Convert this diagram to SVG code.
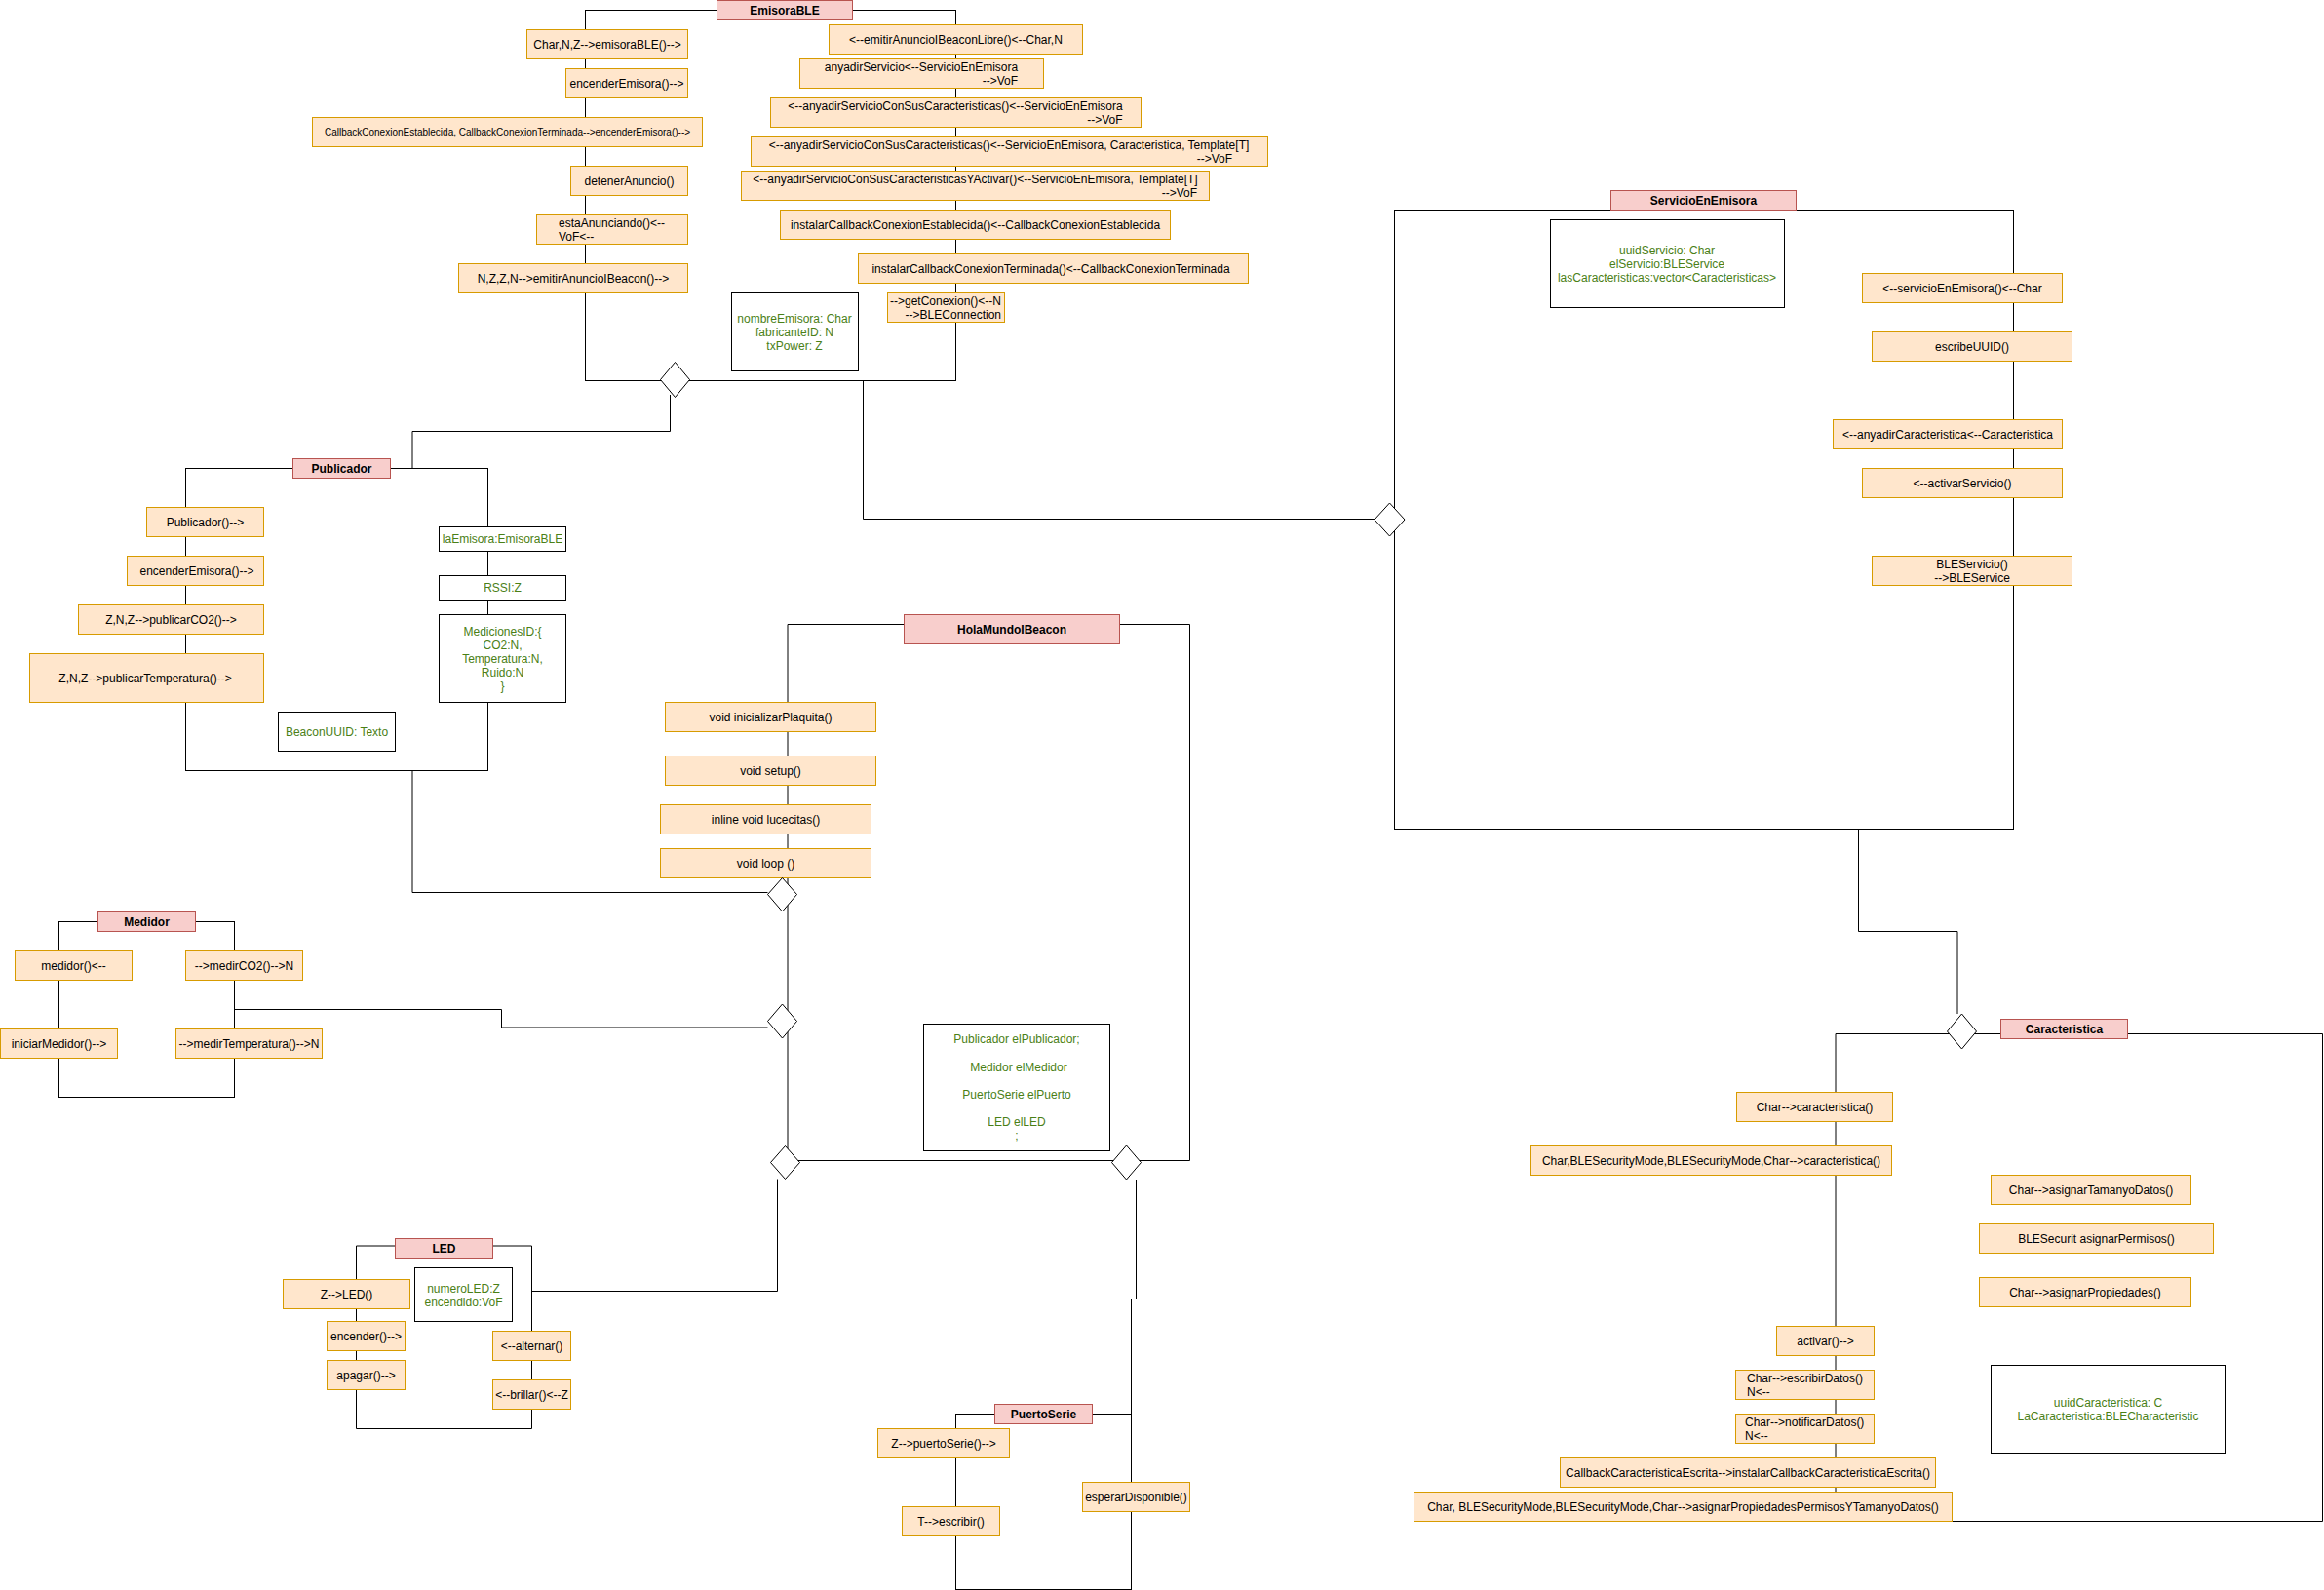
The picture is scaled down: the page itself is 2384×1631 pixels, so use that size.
<svg xmlns="http://www.w3.org/2000/svg" width="2384" height="1631" viewBox="0 0 2384 1631">
<style>
.m{fill:#ffe6cc;stroke:#d79b00;stroke-width:1}
.h{fill:#f8cecc;stroke:#b85450;stroke-width:1}
.a{fill:#fff;stroke:#000;stroke-width:1}
.k{fill:none;stroke:#000;stroke-width:1}
.d{fill:#fff;stroke:#000;stroke-width:1}
text{font-family:"Liberation Sans",Arial,sans-serif;font-size:12px;fill:#000;text-anchor:middle}
.g{fill:#4a8016}
.b{font-weight:bold}
.s{text-anchor:start}
.e{text-anchor:end}
</style>
<rect width="2384" height="1631" fill="#fff"/>
<g id="connectors">
<polyline class="k" points="687.5,405 687.5,442.5 423,442.5 423,480.5"/>
<polyline class="k" points="885.5,390.5 885.5,532.5 1410,532.5"/>
<polyline class="k" points="423,790.5 423,915.5 787.5,915.5"/>
<polyline class="k" points="240.5,1035.5 514.5,1035.5 514.5,1054 787.5,1054"/>
<polyline class="k" points="545.5,1324.5 797.5,1324.5 797.5,1209.5"/>
<polyline class="k" points="1165.5,1210 1165.5,1332.5 1160.5,1332.5 1160.5,1450.5"/>
<polyline class="k" points="1906.5,850.5 1906.5,955.5 2008,955.5 2008,1040"/>
</g>
<g id="EmisoraBLE">
<rect class="k" x="600.5" y="10.5" width="380" height="380"/>
<rect class="h" x="735.5" y="0.5" width="139" height="20"/>
<text class="b" x="805" y="14.5">EmisoraBLE</text>
<rect class="m" x="540.5" y="30.5" width="165" height="30"/>
<text x="623" y="49.5">Char,N,Z--&gt;emisoraBLE()--&gt;</text>
<rect class="m" x="580.5" y="70.5" width="125" height="30"/>
<text x="643" y="89.5">encenderEmisora()--&gt;</text>
<rect class="m" x="320.5" y="120.5" width="400" height="30"/>
<text x="520.5" y="139" style="font-size:10px">CallbackConexionEstablecida, CallbackConexionTerminada--&gt;encenderEmisora()--&gt;</text>
<rect class="m" x="585.5" y="170.5" width="120" height="30"/>
<text x="645.5" y="189.5">detenerAnuncio()</text>
<rect class="m" x="550.5" y="220.5" width="155" height="30"/>
<text class="s" x="573" y="233">estaAnunciando()&lt;--</text>
<text class="s" x="573" y="246.7">VoF&lt;--</text>
<rect class="m" x="470.5" y="270.5" width="235" height="30"/>
<text x="588" y="289.5">N,Z,Z,N--&gt;emitirAnuncioIBeacon()--&gt;</text>
<rect class="m" x="850.5" y="25.5" width="260" height="30"/>
<text x="980.5" y="44.5">&lt;--emitirAnuncioIBeaconLibre()&lt;--Char,N</text>
<rect class="m" x="820.5" y="60.5" width="250" height="30"/>
<text x="945" y="73">anyadirServicio&lt;--ServicioEnEmisora</text>
<text class="e" x="1044" y="86.7">--&gt;VoF</text>
<rect class="m" x="790.5" y="100.5" width="380" height="30"/>
<text x="980" y="112.7">&lt;--anyadirServicioConSusCaracteristicas()&lt;--ServicioEnEmisora</text>
<text class="e" x="1151.5" y="127">--&gt;VoF</text>
<rect class="m" x="770.5" y="140.5" width="530" height="30"/>
<text x="1035" y="153">&lt;--anyadirServicioConSusCaracteristicas()&lt;--ServicioEnEmisora, Caracteristica, Template[T]</text>
<text class="e" x="1264" y="166.7">--&gt;VoF</text>
<rect class="m" x="760.5" y="175.5" width="480" height="30"/>
<text x="1000.5" y="187.7">&lt;--anyadirServicioConSusCaracteristicasYActivar()&lt;--ServicioEnEmisora, Template[T]</text>
<text class="e" x="1228" y="201.7">--&gt;VoF</text>
<rect class="m" x="800.5" y="215.5" width="400" height="30"/>
<text x="1000.5" y="234.5">instalarCallbackConexionEstablecida()&lt;--CallbackConexionEstablecida</text>
<rect class="m" x="880.5" y="260.5" width="400" height="30"/>
<text x="1078" y="279.5">instalarCallbackConexionTerminada()&lt;--CallbackConexionTerminada</text>
<rect class="m" x="910.5" y="300.5" width="120" height="30"/>
<text x="970" y="313">--&gt;getConexion()&lt;--N</text>
<text class="e" x="1027" y="326.7">--&gt;BLEConnection</text>
<rect class="a" x="750.5" y="300.5" width="130" height="80"/>
<text class="g" x="815" y="331">nombreEmisora: Char</text>
<text class="g" x="815" y="345">fabricanteID: N</text>
<text class="g" x="815" y="359">txPower: Z</text>
</g>
<g id="Publicador">
<rect class="k" x="190.5" y="480.5" width="310" height="310"/>
<rect class="h" x="300.5" y="470.5" width="100" height="20"/>
<text class="b" x="350.5" y="484.5">Publicador</text>
<rect class="m" x="150.5" y="520.5" width="120" height="30"/>
<text x="210.5" y="539.5">Publicador()--&gt;</text>
<rect class="m" x="130.5" y="570.5" width="140" height="30"/>
<text x="202" y="589.5">encenderEmisora()--&gt;</text>
<rect class="m" x="80.5" y="620.5" width="190" height="30"/>
<text x="175.5" y="639.5">Z,N,Z--&gt;publicarCO2()--&gt;</text>
<rect class="m" x="30.5" y="670.5" width="240" height="50"/>
<text x="149" y="699.5">Z,N,Z--&gt;publicarTemperatura()--&gt;</text>
<rect class="a" x="285.5" y="730.5" width="120" height="40"/>
<text class="g" x="345.5" y="754.5">BeaconUUID: Texto</text>
<rect class="a" x="450.5" y="540.5" width="130" height="25"/>
<text class="g" x="515.5" y="557">laEmisora:EmisoraBLE</text>
<rect class="a" x="450.5" y="590.5" width="130" height="25"/>
<text class="g" x="515.5" y="607">RSSI:Z</text>
<rect class="a" x="450.5" y="630.5" width="130" height="90"/>
<text class="g" x="515.5" y="651.7">MedicionesID:{</text>
<text class="g" x="515.5" y="665.7">CO2:N,</text>
<text class="g" x="515.5" y="679.7">Temperatura:N,</text>
<text class="g" x="515.5" y="693.7">Ruido:N</text>
<text class="g" x="515.5" y="707.7">}</text>
</g>
<g id="Medidor">
<rect class="k" x="60.5" y="945.5" width="180" height="180"/>
<rect class="h" x="100.5" y="935.5" width="100" height="20"/>
<text class="b" x="150.5" y="949.5">Medidor</text>
<rect class="m" x="15.5" y="975.5" width="120" height="30"/>
<text x="75.5" y="994.5">medidor()&lt;--</text>
<rect class="m" x="190.5" y="975.5" width="120" height="30"/>
<text x="250.5" y="994.5">--&gt;medirCO2()--&gt;N</text>
<rect class="m" x="0.5" y="1055.5" width="120" height="30"/>
<text x="60.5" y="1074.5">iniciarMedidor()--&gt;</text>
<rect class="m" x="180.5" y="1055.5" width="150" height="30"/>
<text x="255.5" y="1074.5">--&gt;medirTemperatura()--&gt;N</text>
</g>
<g id="HolaMundoIBeacon">
<path class="k" d="M808,640.5 H1220.5 V1190.5 H808"/>
<path class="k" d="M808,640.5 V1190.5"/>
<rect class="h" x="927.5" y="630.5" width="221" height="30"/>
<text class="b" x="1038" y="649.5">HolaMundoIBeacon</text>
<rect class="m" x="682.5" y="720.5" width="216" height="30"/>
<text x="790.5" y="739.5">void inicializarPlaquita()</text>
<rect class="m" x="682.5" y="775.5" width="216" height="30"/>
<text x="790.5" y="794.5">void setup()</text>
<rect class="m" x="677.5" y="825.5" width="216" height="30"/>
<text x="785.5" y="844.5">inline void lucecitas()</text>
<rect class="m" x="677.5" y="870.5" width="216" height="30"/>
<text x="785.5" y="889.5">void loop ()</text>
<rect class="a" x="947.5" y="1050.5" width="191" height="130"/>
<text class="g" x="1043" y="1069.7">Publicador elPublicador;</text>
<text class="g" x="1045" y="1099">Medidor elMedidor</text>
<text class="g" x="1043" y="1127.3">PuertoSerie elPuerto</text>
<text class="g" x="1043" y="1154.7">LED elLED</text>
<text class="g" x="1043" y="1169.3">;</text>
</g>
<g id="LED">
<path class="k" d="M365.5,1278 H545.5 V1465.5 H365.5 Z"/>
<rect class="h" x="405.5" y="1270.5" width="100" height="20"/>
<text class="b" x="455.5" y="1284.5">LED</text>
<rect class="m" x="290.5" y="1312.5" width="130" height="30"/>
<text x="355.5" y="1331.5">Z--&gt;LED()</text>
<rect class="a" x="425.5" y="1300.5" width="100" height="55"/>
<text class="g" x="475.5" y="1325.7">numeroLED:Z</text>
<text class="g" x="475.5" y="1340">encendido:VoF</text>
<rect class="m" x="335.5" y="1355.5" width="80" height="30"/>
<text x="375.5" y="1374.5">encender()--&gt;</text>
<rect class="m" x="335.5" y="1395.5" width="80" height="30"/>
<text x="375.5" y="1414.5">apagar()--&gt;</text>
<rect class="m" x="505.5" y="1365.5" width="80" height="30"/>
<text x="545.5" y="1384.5">&lt;--alternar()</text>
<rect class="m" x="505.5" y="1415.5" width="80" height="30"/>
<text x="545.5" y="1434.5">&lt;--brillar()&lt;--Z</text>
</g>
<g id="PuertoSerie">
<rect class="k" x="980.5" y="1450.5" width="180" height="180"/>
<rect class="h" x="1020.5" y="1440.5" width="100" height="20"/>
<text class="b" x="1070.5" y="1454.5">PuertoSerie</text>
<rect class="m" x="900.5" y="1465.5" width="135" height="30"/>
<text x="968" y="1484.5">Z--&gt;puertoSerie()--&gt;</text>
<rect class="m" x="925.5" y="1545.5" width="100" height="30"/>
<text x="975.5" y="1564.5">T--&gt;escribir()</text>
<rect class="m" x="1110.5" y="1520.5" width="110" height="30"/>
<text x="1165.5" y="1539.5">esperarDisponible()</text>
</g>
<g id="ServicioEnEmisora">
<rect class="k" x="1430.5" y="215.5" width="635" height="635"/>
<rect class="h" x="1652.5" y="195.5" width="190" height="20"/>
<text class="b" x="1747.5" y="209.5">ServicioEnEmisora</text>
<rect class="a" x="1590.5" y="225.5" width="240" height="90"/>
<text class="g" x="1710" y="260.7">uuidServicio: Char</text>
<text class="g" x="1710" y="274.7">elServicio:BLEService</text>
<text class="g" x="1710" y="288.7">lasCaracteristicas:vector&lt;Caracteristicas&gt;</text>
<rect class="m" x="1910.5" y="280.5" width="205" height="30"/>
<text x="2013" y="299.5">&lt;--servicioEnEmisora()&lt;--Char</text>
<rect class="m" x="1920.5" y="340.5" width="205" height="30"/>
<text x="2023" y="359.5">escribeUUID()</text>
<rect class="m" x="1880.5" y="430.5" width="235" height="30"/>
<text x="1998" y="449.5">&lt;--anyadirCaracteristica&lt;--Caracteristica</text>
<rect class="m" x="1910.5" y="480.5" width="205" height="30"/>
<text x="2013" y="499.5">&lt;--activarServicio()</text>
<rect class="m" x="1920.5" y="570.5" width="205" height="30"/>
<text x="2023" y="582.7">BLEServicio()</text>
<text x="2023" y="596.7">--&gt;BLEService</text>
</g>
<g id="Caracteristica">
<path class="k" d="M1883,1060.5 H2382.5 V1560.5 H1883 Z"/>
<rect class="h" x="2052.5" y="1045.5" width="130" height="20"/>
<text class="b" x="2117.5" y="1059.5">Caracteristica</text>
<rect class="m" x="1781.5" y="1120.5" width="160" height="30"/>
<text x="1861.5" y="1139.5">Char--&gt;caracteristica()</text>
<rect class="m" x="1570.5" y="1175.5" width="370" height="30"/>
<text x="1755.5" y="1194.5">Char,BLESecurityMode,BLESecurityMode,Char--&gt;caracteristica()</text>
<rect class="m" x="2042.5" y="1205.5" width="205" height="30"/>
<text x="2145" y="1224.5">Char--&gt;asignarTamanyoDatos()</text>
<rect class="m" x="2030.5" y="1255.5" width="240" height="30"/>
<text x="2150.5" y="1274.5">BLESecurit asignarPermisos()</text>
<rect class="m" x="2030.5" y="1310.5" width="217" height="30"/>
<text x="2139" y="1329.5">Char--&gt;asignarPropiedades()</text>
<rect class="m" x="1822.5" y="1360.5" width="100" height="30"/>
<text x="1872.5" y="1379.5">activar()--&gt;</text>
<rect class="m" x="1780.5" y="1405.5" width="142" height="30"/>
<text class="s" x="1792" y="1418">Char--&gt;escribirDatos()</text>
<text class="s" x="1792" y="1432">N&lt;--</text>
<rect class="m" x="1780.5" y="1450.5" width="142" height="30"/>
<text class="s" x="1790" y="1463">Char--&gt;notificarDatos()</text>
<text class="s" x="1790" y="1477">N&lt;--</text>
<rect class="m" x="1600.5" y="1495.5" width="385" height="30"/>
<text x="1793" y="1514.5">CallbackCaracteristicaEscrita--&gt;instalarCallbackCaracteristicaEscrita()</text>
<rect class="m" x="1450.5" y="1530.5" width="552" height="30"/>
<text x="1726.5" y="1549.5">Char, BLESecurityMode,BLESecurityMode,Char--&gt;asignarPropiedadesPermisosYTamanyoDatos()</text>
<rect class="a" x="2042.5" y="1400.5" width="240" height="90"/>
<text class="g" x="2162.5" y="1442.7">uuidCaracteristica: C</text>
<text class="g" x="2162.5" y="1457">LaCaracteristica:BLECharacteristic</text>
</g>
<g id="diamonds">
<polygon class="d" points="692.5,371.5 707.5,389.5 692.5,407.5 677.5,389.5"/>
<polygon class="d" points="1425.5,516 1441,533 1425.5,550 1410,533"/>
<polygon class="d" points="2012.5,1040 2027.5,1058 2012.5,1076 1997.5,1058"/>
<polygon class="d" points="802.5,900.5 817.5,917.5 802.5,935 787.5,917.5"/>
<polygon class="d" points="802.5,1030 817.5,1047.5 802.5,1065 787.5,1047.5"/>
<polygon class="d" points="805.5,1175.5 820.5,1192.5 805.5,1209.5 790.5,1192.5"/>
<polygon class="d" points="1155.5,1175 1170.5,1192.5 1155.5,1210 1140.5,1192.5"/>
</g>
</svg>
